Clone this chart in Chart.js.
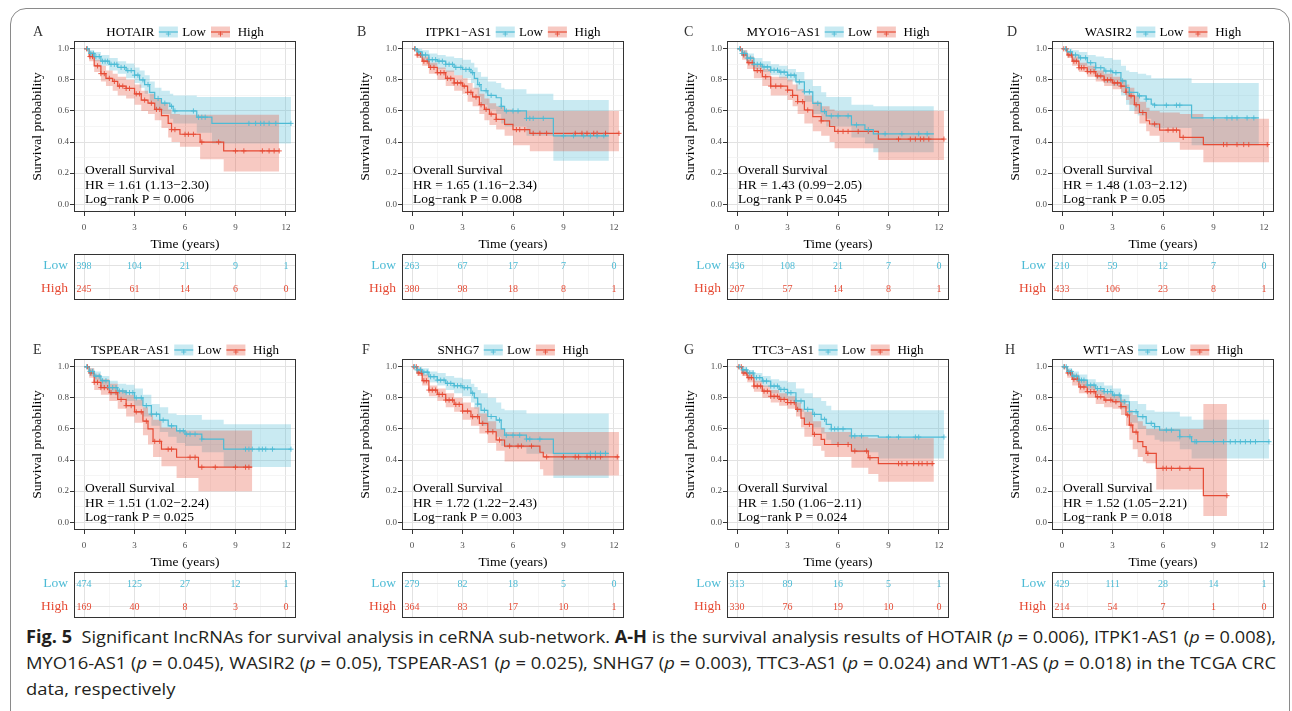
<!DOCTYPE html>
<html><head><meta charset="utf-8">
<script src="https://cdn.jsdelivr.net/npm/chart.js@4.4.0/dist/chart.umd.min.js"></script>
<style>
html,body{margin:0;padding:0;background:#fff;}
#page{position:relative;width:1292px;height:711px;overflow:hidden;background:#fff;}
#frame{position:absolute;left:10px;top:8px;width:1280px;height:740px;border:1px solid #8a8a8a;border-radius:16px;box-sizing:border-box;}
canvas{position:absolute;}
.cap{position:absolute;left:26px;font-family:'Open Sans',sans-serif;font-size:17px;line-height:17px;white-space:nowrap;color:#231f20;transform-origin:0 0;}
</style></head>
<body><div id="page"><div id="frame"></div>
<div class="cap" id="cap1"><b>Fig. 5</b>&nbsp; Significant lncRNAs for survival analysis in ceRNA sub-network. <b>A-H</b> is the survival analysis results of HOTAIR (<i>p</i> = 0.006), ITPK1-AS1 (<i>p</i> = 0.008),</div>
<div class="cap" id="cap2">MYO16-AS1 (<i>p</i> = 0.045), WASIR2 (<i>p</i> = 0.05), TSPEAR-AS1 (<i>p</i> = 0.025), SNHG7 (<i>p</i> = 0.003), TTC3-AS1 (<i>p</i> = 0.024) and WT1-AS (<i>p</i> = 0.018) in the TCGA CRC</div>
<div class="cap" id="cap3">data, respectively</div>
</div>
<script>
// ---------- DATA ----------
const xTicks = [0, 3, 6, 9, 12];
const xGrid = [0, 1.5, 3, 4.5, 6, 7.5, 9, 10.5, 12];
const yGrid = [0, 0.1, 0.2, 0.3, 0.4, 0.5, 0.6, 0.7, 0.8, 0.9, 1.0];
const riskTimes = [0, 3, 6, 9, 12];
const groupLabels = ['Low', 'High'];
const panelLetters = ['A','B','C','D','E','F','G','H'];
const geneNames = ['HOTAIR','ITPK1\u2212AS1','MYO16\u2212AS1','WASIR2','TSPEAR\u2212AS1','SNHG7','TTC3\u2212AS1','WT1\u2212AS'];
const hrTexts = ['1.61 (1.13\u22122.30)','1.65 (1.16\u22122.34)','1.43 (0.99\u22122.05)','1.48 (1.03\u22122.12)','1.51 (1.02\u22122.24)','1.72 (1.22\u22122.43)','1.50 (1.06\u22122.11)','1.52 (1.05\u22122.21)'];
const pTexts = ['0.006','0.008','0.045','0.05','0.025','0.003','0.024','0.018'];
const riskLow = [[398,104,21,9,1],[263,67,17,7,0],[436,108,21,7,0],[210,59,12,7,0],[474,125,27,12,1],[279,82,18,5,0],[313,89,16,5,1],[429,111,28,14,1]];
const riskHigh = [[245,61,14,6,0],[380,98,18,8,1],[207,57,14,8,1],[433,106,23,8,1],[169,40,8,3,0],[364,83,17,10,1],[330,76,19,10,0],[214,54,7,1,0]];

// Panel A (HOTAIR)
const A_lowT=[0,0.3,0.6,1.0,1.5,2.0,2.5,3.0,3.3,3.6,3.9,4.2,4.6,5.1,5.3,6.7,7.6,12.3];
const A_lowS=[1.0,0.97,0.95,0.92,0.90,0.88,0.86,0.83,0.80,0.77,0.72,0.68,0.65,0.63,0.60,0.56,0.52,0.52];
const A_lowU=[1.0,0.99,0.98,0.96,0.94,0.92,0.905,0.88,0.86,0.83,0.79,0.75,0.73,0.71,0.70,0.69,0.69,0.69];
const A_lowL=[1.0,0.95,0.92,0.89,0.86,0.84,0.81,0.78,0.75,0.71,0.66,0.61,0.58,0.55,0.52,0.46,0.39,0.39];
const A_lowC=[0.2,0.4,0.55,0.7,0.9,1.1,1.25,1.4,1.6,1.8,1.95,2.2,2.4,2.6,2.8,3.0,3.2,3.5,3.8,4.4,4.8,5.2,5.4,6.5,6.8,7.0,7.2,9.8,10.2,10.5,10.7,11.0,11.4,12.3];
const A_highT=[0,0.3,0.6,1.0,1.3,1.7,2.0,2.5,3.0,3.4,3.8,4.2,4.6,5.0,5.2,5.7,6.9,8.3,11.6];
const A_highS=[1.0,0.95,0.89,0.84,0.81,0.79,0.76,0.745,0.71,0.67,0.65,0.61,0.57,0.52,0.48,0.45,0.40,0.343,0.343];
const A_highU=[1.0,0.98,0.93,0.89,0.86,0.84,0.82,0.80,0.77,0.73,0.71,0.68,0.65,0.61,0.58,0.575,0.575,0.575,0.575];
const A_highL=[1.0,0.92,0.85,0.79,0.76,0.73,0.70,0.68,0.64,0.60,0.58,0.54,0.49,0.43,0.40,0.37,0.29,0.21,0.21];
const A_highC=[0.15,0.35,0.5,0.8,1.0,1.2,1.5,1.8,2.1,2.3,2.5,2.7,3.1,3.3,3.6,4.0,4.3,4.5,5.2,5.4,6.0,6.2,6.5,7.0,8.0,9.0,9.5,10.6,11.0,11.3,11.6];

// Panel B (ITPK1-AS1)
const B_lowT=[0,0.3,0.6,1.0,1.5,2.0,2.5,3.0,3.5,3.7,3.9,4.1,4.5,5.0,5.3,5.5,6.8,8.4,11.7];
const B_lowS=[1.0,0.98,0.96,0.93,0.92,0.90,0.88,0.867,0.846,0.81,0.77,0.73,0.70,0.685,0.63,0.60,0.552,0.44,0.44];
const B_lowU=[1.0,1.0,0.99,0.97,0.96,0.95,0.94,0.93,0.91,0.88,0.85,0.82,0.79,0.78,0.75,0.74,0.71,0.67,0.67];
const B_lowL=[1.0,0.96,0.93,0.89,0.87,0.85,0.83,0.81,0.78,0.74,0.69,0.64,0.61,0.58,0.52,0.50,0.44,0.28,0.28];
const B_lowC=[0.2,0.4,0.6,0.8,1.0,1.2,1.4,1.6,1.8,2.0,2.2,2.4,2.6,2.9,3.2,3.4,3.6,4.0,4.4,4.7,5.3,5.6,6.0,6.3,6.8,7.0,7.2,7.8,9.0,9.6,10.2,10.6,11.0,11.4];
const B_highT=[0,0.3,0.6,1.0,1.5,2.0,2.5,3.0,3.3,3.6,4.0,4.3,4.6,5.0,5.5,6.0,7.0,12.3];
const B_highS=[1.0,0.96,0.92,0.88,0.846,0.81,0.78,0.76,0.72,0.69,0.64,0.61,0.58,0.546,0.514,0.48,0.456,0.456];
const B_highU=[1.0,0.98,0.95,0.91,0.88,0.86,0.83,0.81,0.78,0.75,0.71,0.68,0.65,0.63,0.61,0.60,0.60,0.60];
const B_highL=[1.0,0.94,0.89,0.84,0.80,0.76,0.73,0.71,0.66,0.63,0.58,0.54,0.51,0.48,0.44,0.38,0.34,0.34];
const B_highC=[0.15,0.3,0.5,0.7,0.9,1.1,1.3,1.5,1.7,1.9,2.1,2.3,2.5,2.7,2.9,3.1,3.3,3.5,3.8,4.1,4.4,4.7,5.0,6.2,6.4,6.7,7.2,7.6,8.0,9.7,10.1,10.4,10.8,11.0,11.5,12.3];

// Panel C (MYO16-AS1)
const C_lowT=[0,0.3,0.6,1.0,1.5,2.0,2.5,3.0,3.5,4.0,4.5,5.0,5.3,6.8,7.6,8.1,11.7];
const C_lowS=[1.0,0.97,0.94,0.90,0.883,0.862,0.85,0.83,0.787,0.723,0.649,0.596,0.568,0.51,0.48,0.453,0.453];
const C_lowU=[1.0,0.99,0.97,0.94,0.92,0.90,0.89,0.87,0.85,0.80,0.76,0.72,0.69,0.64,0.64,0.63,0.63];
const C_lowL=[1.0,0.95,0.91,0.87,0.85,0.83,0.81,0.79,0.73,0.66,0.58,0.54,0.50,0.43,0.39,0.335,0.335];
const C_lowC=[0.15,0.3,0.45,0.6,0.8,1.0,1.2,1.4,1.6,1.8,2.0,2.2,2.4,2.6,2.8,3.0,3.2,3.4,3.7,4.0,4.3,4.8,5.2,5.6,6.0,6.6,7.1,7.8,8.8,9.8,10.8,11.3];
const C_highT=[0,0.3,0.6,1.0,1.5,2.0,3.0,3.3,3.6,4.0,4.5,5.0,5.5,5.8,8.4,12.3];
const C_highS=[1.0,0.96,0.91,0.86,0.82,0.76,0.734,0.70,0.66,0.606,0.564,0.536,0.50,0.468,0.419,0.419];
const C_highU=[1.0,0.99,0.95,0.90,0.87,0.82,0.80,0.77,0.74,0.70,0.66,0.63,0.61,0.60,0.60,0.60];
const C_highL=[1.0,0.93,0.87,0.81,0.76,0.70,0.67,0.63,0.58,0.52,0.47,0.44,0.40,0.36,0.285,0.285];
const C_highC=[0.2,0.4,0.7,0.9,1.2,1.4,1.7,2.0,2.3,2.6,3.0,3.3,3.6,3.9,4.2,5.0,6.0,6.3,6.6,7.2,7.8,9.6,10.3,10.6,10.9,11.1,11.4,12.3];

// Panel D (WASIR2)
const D_lowT=[0,0.3,0.6,1.0,1.5,2.0,2.5,3.0,3.5,3.8,4.0,4.5,5.0,5.3,5.5,7.7,11.7];
const D_lowS=[1.0,0.98,0.96,0.942,0.91,0.878,0.857,0.846,0.793,0.75,0.72,0.697,0.676,0.644,0.637,0.555,0.555];
const D_lowU=[1.0,1.0,0.99,0.98,0.96,0.95,0.94,0.93,0.89,0.86,0.85,0.84,0.83,0.81,0.81,0.78,0.78];
const D_lowL=[1.0,0.95,0.92,0.89,0.85,0.81,0.78,0.76,0.70,0.64,0.60,0.57,0.55,0.50,0.49,0.38,0.38];
const D_lowC=[0.2,0.5,0.8,1.1,1.4,1.7,2.0,2.3,2.6,2.9,3.2,3.6,4.0,4.6,5.0,5.5,6.2,6.8,7.0,9.0,9.8,10.1,10.4,11.0,11.4];
const D_highT=[0,0.3,0.6,1.0,1.5,2.0,2.5,3.0,3.5,3.8,4.0,4.3,4.6,5.0,5.2,5.8,7.0,8.4,12.3];
const D_highS=[1.0,0.96,0.92,0.878,0.853,0.825,0.80,0.78,0.76,0.72,0.697,0.64,0.59,0.537,0.516,0.477,0.43,0.384,0.384];
const D_highU=[1.0,0.98,0.95,0.91,0.89,0.86,0.84,0.82,0.80,0.77,0.75,0.70,0.66,0.62,0.60,0.59,0.58,0.55,0.55];
const D_highL=[1.0,0.94,0.89,0.85,0.82,0.79,0.76,0.74,0.72,0.67,0.64,0.58,0.52,0.47,0.44,0.40,0.35,0.27,0.27];
const D_highC=[0.1,0.25,0.4,0.55,0.7,0.85,1.0,1.15,1.3,1.5,1.7,1.9,2.1,2.3,2.5,2.7,2.9,3.1,3.3,3.5,3.8,4.1,4.4,4.8,5.5,6.3,6.6,6.8,7.2,9.6,9.8,10.4,10.8,11.1,12.2];

// Panel E (TSPEAR-AS1)
const E_lowT=[0,0.3,0.6,1.0,1.5,2.0,2.5,3.0,3.5,4.0,4.5,5.0,5.5,6.0,7.0,8.3,12.3];
const E_lowS=[1.0,0.97,0.94,0.91,0.866,0.844,0.834,0.80,0.75,0.695,0.657,0.62,0.588,0.567,0.535,0.47,0.47];
const E_lowU=[1.0,0.99,0.97,0.94,0.91,0.89,0.885,0.86,0.82,0.76,0.74,0.70,0.69,0.69,0.66,0.63,0.63];
const E_lowL=[1.0,0.94,0.91,0.87,0.82,0.80,0.78,0.75,0.68,0.62,0.58,0.55,0.51,0.49,0.45,0.355,0.355];
const E_lowC=[0.15,0.35,0.5,0.7,0.9,1.1,1.3,1.5,1.7,1.9,2.1,2.3,2.5,2.7,2.9,3.1,3.4,3.7,4.0,4.3,4.7,5.2,5.7,5.9,6.1,6.3,6.6,7.0,9.6,9.8,10.0,10.4,10.6,10.8,11.2,12.3];
const E_highT=[0,0.3,0.6,1.0,1.5,2.0,2.5,3.0,3.5,3.8,4.1,4.6,5.5,6.8,10.0];
const E_highS=[1.0,0.96,0.90,0.866,0.834,0.79,0.75,0.71,0.65,0.60,0.52,0.47,0.418,0.354,0.354];
const E_highU=[1.0,0.99,0.95,0.92,0.89,0.85,0.82,0.79,0.74,0.70,0.66,0.61,0.59,0.59,0.59];
const E_highL=[1.0,0.93,0.85,0.82,0.78,0.73,0.68,0.64,0.56,0.50,0.42,0.36,0.285,0.20,0.20];
const E_highC=[0.2,0.4,0.6,0.8,1.0,1.2,1.4,1.6,1.9,2.2,2.5,2.8,3.1,3.4,3.7,4.2,4.5,5.0,5.2,6.3,6.6,7.0,7.8,9.0,9.6,9.8];

// Panel F (SNHG7)
const F_lowT=[0,0.3,0.6,1.0,1.5,2.0,2.5,3.0,3.5,3.7,3.9,4.1,4.5,5.0,5.3,5.5,6.8,8.4,11.7];
const F_lowS=[1.0,0.98,0.965,0.936,0.914,0.893,0.878,0.865,0.83,0.80,0.76,0.72,0.68,0.657,0.60,0.56,0.535,0.443,0.443];
const F_lowU=[1.0,1.0,0.99,0.97,0.96,0.94,0.93,0.92,0.89,0.87,0.85,0.83,0.80,0.77,0.73,0.72,0.70,0.70,0.70];
const F_lowL=[1.0,0.96,0.94,0.90,0.88,0.85,0.83,0.81,0.77,0.73,0.68,0.62,0.58,0.55,0.49,0.48,0.44,0.285,0.285];
const F_lowC=[0.15,0.3,0.5,0.7,0.9,1.1,1.3,1.5,1.7,1.9,2.1,2.3,2.5,2.7,2.9,3.1,3.3,3.6,3.9,4.3,4.7,5.2,5.6,6.0,6.4,6.8,7.0,7.6,10.6,10.9,11.2,11.5];
const F_highT=[0,0.3,0.6,1.0,1.5,2.0,2.5,3.0,3.5,4.0,4.5,5.0,5.5,7.6,7.8,12.3];
const F_highS=[1.0,0.96,0.91,0.85,0.822,0.786,0.758,0.715,0.679,0.636,0.582,0.529,0.49,0.45,0.42,0.42];
const F_highU=[1.0,0.99,0.95,0.88,0.86,0.83,0.80,0.77,0.74,0.70,0.65,0.60,0.58,0.58,0.58,0.58];
const F_highL=[1.0,0.94,0.88,0.81,0.78,0.74,0.71,0.66,0.62,0.57,0.51,0.46,0.39,0.34,0.30,0.30];
const F_highC=[0.1,0.25,0.4,0.55,0.7,0.85,1.0,1.2,1.4,1.6,1.8,2.0,2.2,2.4,2.6,2.8,3.0,3.3,3.6,3.9,4.2,4.5,4.8,5.2,5.8,6.3,6.5,7.1,8.0,9.0,9.7,9.9,10.4,10.6,10.9,11.2,12.2];

// Panel G (TTC3-AS1)
const G_lowT=[0,0.3,0.6,1.0,1.5,2.0,2.5,3.0,3.5,4.0,4.5,5.0,5.3,5.6,6.8,8.4,12.3];
const G_lowS=[1.0,0.98,0.96,0.93,0.908,0.876,0.854,0.833,0.78,0.726,0.694,0.662,0.63,0.60,0.555,0.548,0.548];
const G_lowU=[1.0,1.0,0.98,0.96,0.94,0.92,0.91,0.90,0.86,0.83,0.80,0.78,0.75,0.72,0.72,0.72,0.72];
const G_lowL=[1.0,0.96,0.93,0.90,0.87,0.83,0.80,0.78,0.71,0.64,0.61,0.57,0.53,0.50,0.45,0.41,0.41];
const G_lowC=[0.15,0.35,0.55,0.75,0.95,1.15,1.35,1.55,1.75,2.0,2.2,2.4,2.6,2.8,3.0,3.2,3.5,3.8,4.2,4.6,5.2,5.6,5.8,6.0,6.3,6.8,7.0,7.4,9.0,9.6,10.6,10.8,12.3];
const G_highT=[0,0.3,0.6,1.0,1.5,2.0,2.5,3.0,3.5,3.8,4.0,4.5,5.0,5.2,6.8,7.8,8.4,11.7];
const G_highS=[1.0,0.96,0.93,0.876,0.843,0.81,0.79,0.77,0.726,0.67,0.63,0.565,0.533,0.50,0.458,0.415,0.377,0.377];
const G_highU=[1.0,0.98,0.96,0.91,0.88,0.85,0.83,0.81,0.77,0.73,0.71,0.65,0.61,0.58,0.55,0.54,0.54,0.54];
const G_highL=[1.0,0.94,0.90,0.84,0.80,0.77,0.75,0.73,0.68,0.61,0.55,0.49,0.46,0.42,0.35,0.31,0.26,0.26];
const G_highC=[0.1,0.25,0.4,0.55,0.7,0.85,1.0,1.2,1.4,1.6,1.8,2.0,2.2,2.4,2.6,2.8,3.0,3.2,3.4,3.6,4.3,4.6,6.0,6.6,7.0,7.7,7.9,9.6,9.8,10.1,10.5,10.8,11.0,11.3,11.6];

// Panel H (WT1-AS)
const H_lowT=[0,0.3,0.6,1.0,1.5,2.0,2.5,3.0,3.5,4.0,4.5,5.0,5.5,5.8,7.0,7.7,12.3];
const H_lowS=[1.0,0.97,0.94,0.914,0.882,0.86,0.84,0.818,0.775,0.711,0.679,0.636,0.615,0.593,0.55,0.518,0.518];
const H_lowU=[1.0,0.99,0.97,0.95,0.92,0.90,0.88,0.86,0.82,0.78,0.76,0.72,0.71,0.71,0.68,0.66,0.66];
const H_lowL=[1.0,0.95,0.92,0.88,0.85,0.82,0.80,0.77,0.73,0.64,0.60,0.56,0.53,0.52,0.47,0.41,0.41];
const H_lowC=[0.1,0.25,0.4,0.55,0.7,0.85,1.0,1.15,1.3,1.5,1.7,1.9,2.1,2.3,2.5,2.7,2.9,3.1,3.4,3.7,4.0,4.4,4.8,5.3,5.5,6.2,6.5,7.0,7.6,7.9,8.0,9.0,9.6,10.0,10.3,10.6,10.9,11.2,11.5,12.3];
const H_highT=[0,0.3,0.6,1.0,1.5,2.0,2.5,3.0,3.5,3.8,4.0,4.2,4.5,4.8,5.0,5.6,8.4,9.8];
const H_highS=[1.0,0.96,0.92,0.87,0.84,0.807,0.786,0.775,0.743,0.69,0.625,0.58,0.518,0.486,0.443,0.347,0.171,0.171];
const H_highU=[1.0,0.98,0.95,0.91,0.88,0.85,0.83,0.82,0.79,0.76,0.72,0.69,0.65,0.62,0.60,0.60,0.76,0.76];
const H_highL=[1.0,0.93,0.88,0.83,0.80,0.76,0.74,0.73,0.69,0.62,0.53,0.47,0.42,0.39,0.38,0.21,0.04,0.04];
const H_highC=[0.15,0.35,0.5,0.7,0.9,1.1,1.3,1.5,1.7,1.9,2.1,2.3,2.6,2.9,3.2,3.5,3.9,4.1,4.4,5.1,6.0,6.2,6.5,7.0,7.6,9.8];

const curveList = [
  [{T:A_lowT,S:A_lowS,U:A_lowU,L:A_lowL,C:A_lowC},{T:A_highT,S:A_highS,U:A_highU,L:A_highL,C:A_highC}],
  [{T:B_lowT,S:B_lowS,U:B_lowU,L:B_lowL,C:B_lowC},{T:B_highT,S:B_highS,U:B_highU,L:B_highL,C:B_highC}],
  [{T:C_lowT,S:C_lowS,U:C_lowU,L:C_lowL,C:C_lowC},{T:C_highT,S:C_highS,U:C_highU,L:C_highL,C:C_highC}],
  [{T:D_lowT,S:D_lowS,U:D_lowU,L:D_lowL,C:D_lowC},{T:D_highT,S:D_highS,U:D_highU,L:D_highL,C:D_highC}],
  [{T:E_lowT,S:E_lowS,U:E_lowU,L:E_lowL,C:E_lowC},{T:E_highT,S:E_highS,U:E_highU,L:E_highL,C:E_highC}],
  [{T:F_lowT,S:F_lowS,U:F_lowU,L:F_lowL,C:F_lowC},{T:F_highT,S:F_highS,U:F_highU,L:F_highL,C:F_highC}],
  [{T:G_lowT,S:G_lowS,U:G_lowU,L:G_lowL,C:G_lowC},{T:G_highT,S:G_highS,U:G_highU,L:G_highL,C:G_highC}],
  [{T:H_lowT,S:H_lowS,U:H_lowU,L:H_lowL,C:H_lowC},{T:H_highT,S:H_highS,U:H_highU,L:H_highL,C:H_highC}]
];

// ---------- LAYOUT / STYLE ----------
const colLeft = [74, 402, 727, 1052];
const rowPlotTop = [41, 359];
const rowTableTop = [254, 572];
const letterOff = [41, 45, 43, 45, 41, 40, 43, 47];
const PW = 222, PH = 171, TH = 46, YW = 62, TOPPAD = 32, XH = 46, RPAD = 10;
const BLUE = '#4DBBD5', RED = '#E64B35';
const BLUE_BAND = 'rgba(77,187,213,0.3)', RED_BAND = 'rgba(230,75,53,0.3)';
const SERIF = '"Liberation Serif", "Times New Roman", serif';
const GRID_MAJ = '#e2e2e2', GRID_MIN = '#f0f0f0';

Chart.defaults.font.family = SERIF;

function stepAt(T, S, t) { let v = S[0]; for (let i = 0; i < T.length; i++) { if (T[i] <= t) v = S[i]; } return v; }
function pts(T, V) { return T.map((t, i) => ({x: t, y: V[i]})); }
const isMajorX = v => Math.abs(v / 3 - Math.round(v / 3)) < 1e-6;
const isMajorY = v => Math.abs(v * 5 - Math.round(v * 5)) < 1e-6;
function zeroPad(s) { s.paddingTop = 0; s.paddingBottom = 0; s.paddingLeft = 0; s.paddingRight = 0; }

const kmDecor = {
  id: 'kmDecor',
  afterDatasetsDraw(chart, args, o) {
    const {ctx, chartArea: a, scales: {x, y}} = chart;
    ctx.save();
    ctx.strokeStyle = '#333'; ctx.lineWidth = 1;
    ctx.strokeRect(Math.round(a.left) + 0.5, Math.round(a.top) + 0.5, Math.round(a.right - a.left) - 1, Math.round(a.bottom - a.top) - 1);
    ctx.fillStyle = '#000'; ctx.font = '13.5px ' + SERIF; ctx.textAlign = 'left'; ctx.textBaseline = 'alphabetic';
    const x0 = x.getPixelForValue(0) + 1, y0 = y.getPixelForValue(0);
    ctx.fillText('Overall Survival', x0, y0 - 30);
    ctx.fillText('HR = ' + o.hr, x0, y0 - 15.5);
    ctx.fillText('Log\u2212rank P = ' + o.p, x0, y0 - 1.5);
    ctx.restore();
  },
  afterDraw(chart, args, o) {
    const {ctx, chartArea: a} = chart;
    ctx.save();
    ctx.fillStyle = '#333'; ctx.font = '14px ' + SERIF; ctx.textBaseline = 'alphabetic'; ctx.textAlign = 'left';
    ctx.fillText(o.letter, a.left - o.letterOff, a.top - 5.3);
    ctx.fillStyle = '#000'; ctx.font = '13px ' + SERIF;
    const wN = ctx.measureText(o.name).width, wL = ctx.measureText(groupLabels[0]).width, wH = ctx.measureText(groupLabels[1]).width;
    const total = wN + 4.5 + 19 + 4.3 + wL + 5 + 19 + 7.7 + wH;
    let cx = (a.left + a.right) / 2 - total / 2;
    const base = a.top - 5.3, kTop = a.top - 14.5, kH = 11;
    ctx.fillText(o.name, cx, base); cx += wN + 4.5;
    const key = (bx, band, col) => {
      ctx.fillStyle = band; ctx.fillRect(bx, kTop, 19, kH);
      ctx.strokeStyle = col; ctx.lineWidth = 1.2;
      ctx.beginPath(); ctx.moveTo(bx, kTop + kH / 2); ctx.lineTo(bx + 19, kTop + kH / 2); ctx.stroke();
      ctx.lineWidth = 0.9;
      ctx.beginPath(); ctx.moveTo(bx + 9.5 - 2.5, kTop + kH / 2 + 2); ctx.lineTo(bx + 9.5 + 2.5, kTop + kH / 2 + 2);
      ctx.moveTo(bx + 9.5, kTop + kH / 2 - 0.5); ctx.lineTo(bx + 9.5, kTop + kH / 2 + 4.5); ctx.stroke();
    };
    key(cx, BLUE_BAND, BLUE); cx += 19 + 4.3;
    ctx.fillStyle = '#000'; ctx.fillText(groupLabels[0], cx, base); cx += wL + 5;
    key(cx, RED_BAND, RED); cx += 19 + 7.7;
    ctx.fillStyle = '#000'; ctx.fillText(groupLabels[1], cx, base);
    ctx.font = '13.5px ' + SERIF; ctx.textAlign = 'center'; ctx.fillStyle = '#000';
    ctx.fillText('Time (years)', (a.left + a.right) / 2, a.bottom + 36);
    ctx.translate(a.left - 33.5, (a.top + a.bottom) / 2);
    ctx.rotate(-Math.PI / 2);
    ctx.fillText('Survival probability', 0, 0);
    ctx.restore();
  }
};

const riskDecor = {
  id: 'riskDecor',
  afterDatasetsDraw(chart) {
    const {ctx, chartArea: a} = chart;
    ctx.save();
    ctx.font = '10px ' + SERIF; ctx.textAlign = 'center'; ctx.textBaseline = 'middle';
    chart.data.datasets.forEach((ds, i) => {
      const meta = chart.getDatasetMeta(i);
      ctx.fillStyle = ds.textColor;
      meta.data.forEach((el, j) => ctx.fillText(String(ds.counts[j]), el.x, el.y + 0.5));
    });
    ctx.strokeStyle = '#333'; ctx.lineWidth = 1;
    ctx.strokeRect(Math.round(a.left) + 0.5, Math.round(a.top) + 0.5, Math.round(a.right - a.left) - 1, Math.round(a.bottom - a.top) - 1);
    ctx.restore();
  }
};

function makeCanvas(left, top, w, h) {
  const c = document.createElement('canvas');
  c.width = w; c.height = h;
  c.style.left = left + 'px'; c.style.top = top + 'px';
  c.style.width = w + 'px'; c.style.height = h + 'px';
  document.getElementById('page').appendChild(c);
  return c;
}

function buildPanel(i) {
  const col = i % 4, row = Math.floor(i / 4);
  const L = colLeft[col], T = rowPlotTop[row], TT = rowTableTop[row];
  const [lo, hi] = curveList[i];
  const cw = YW + PW + RPAD;
  const kmCanvas = makeCanvas(L - YW, T - TOPPAD, cw, TOPPAD + PH + XH);
  const lineBase = {pointRadius: 0, stepped: true, fill: false, borderWidth: 0, borderColor: 'rgba(0,0,0,0)'};
  const datasets = [
    Object.assign({}, lineBase, {data: pts(lo.T, lo.U), order: 9}),
    Object.assign({}, lineBase, {data: pts(lo.T, lo.L), fill: '-1', backgroundColor: BLUE_BAND, order: 9}),
    Object.assign({}, lineBase, {data: pts(hi.T, hi.U), order: 8}),
    Object.assign({}, lineBase, {data: pts(hi.T, hi.L), fill: '-1', backgroundColor: RED_BAND, order: 8}),
    Object.assign({}, lineBase, {data: pts(hi.T, hi.S), borderColor: RED, borderWidth: 1.2, order: 3}),
    Object.assign({}, lineBase, {data: pts(lo.T, lo.S), borderColor: BLUE, borderWidth: 1.2, order: 2}),
    {data: hi.C.map(t => ({x: t, y: stepAt(hi.T, hi.S, t)})), showLine: false, pointStyle: 'cross', pointRadius: 2.6, pointBorderWidth: 0.9, pointBorderColor: RED, borderColor: RED, order: 1},
    {data: lo.C.map(t => ({x: t, y: stepAt(lo.T, lo.S, t)})), showLine: false, pointStyle: 'cross', pointRadius: 2.6, pointBorderWidth: 0.9, pointBorderColor: BLUE, borderColor: BLUE, order: 0}
  ];
  new Chart(kmCanvas, {
    type: 'line',
    data: {datasets},
    plugins: [kmDecor],
    options: {
      responsive: false, animation: false, devicePixelRatio: 1, events: [],
      layout: {padding: {top: TOPPAD, right: RPAD, left: 0, bottom: 0}},
      plugins: {legend: {display: false}, tooltip: {enabled: false},
        kmDecor: {name: geneNames[i], hr: hrTexts[i], p: pTexts[i], letter: panelLetters[i], letterOff: letterOff[i]}},
      scales: {
        x: {type: 'linear', min: -0.6, max: 12.6,
          afterBuildTicks: s => { s.ticks = xGrid.map(v => ({value: v})); },
          afterFit: s => { s.height = XH; zeroPad(s); },
          border: {display: false},
          grid: {color: c => isMajorX(c.tick.value) ? GRID_MAJ : GRID_MIN, lineWidth: c => isMajorX(c.tick.value) ? 1 : 0.7,
                 tickColor: c => isMajorX(c.tick.value) ? '#333' : 'rgba(0,0,0,0)', tickLength: 4, tickWidth: 1},
          ticks: {autoSkip: false, maxRotation: 0, padding: 6, color: '#4d4d4d', font: {family: SERIF, size: 9},
                  callback: v => (xTicks.includes(v) ? String(v) : '')}
        },
        y: {type: 'linear', min: -0.05, max: 1.05,
          afterBuildTicks: s => { s.ticks = yGrid.map(v => ({value: v})); },
          afterFit: s => { s.width = YW; zeroPad(s); },
          border: {display: false},
          grid: {color: c => isMajorY(c.tick.value) ? GRID_MAJ : GRID_MIN, lineWidth: c => isMajorY(c.tick.value) ? 1 : 0.7,
                 tickColor: c => isMajorY(c.tick.value) ? '#333' : 'rgba(0,0,0,0)', tickLength: 4, tickWidth: 1},
          ticks: {autoSkip: false, padding: 1, color: '#4d4d4d', font: {family: SERIF, size: 9},
                  callback: v => (isMajorY(v) ? v.toFixed(1) : '')}
        }
      }
    }
  });

  const rCanvas = makeCanvas(L - YW, TT - 2, cw, TH + 4);
  new Chart(rCanvas, {
    type: 'scatter',
    data: {datasets: [
      {data: riskTimes.map(t => ({x: t, y: groupLabels[0]})), counts: riskLow[i], textColor: BLUE, pointRadius: 0},
      {data: riskTimes.map(t => ({x: t, y: groupLabels[1]})), counts: riskHigh[i], textColor: RED, pointRadius: 0}
    ]},
    plugins: [riskDecor],
    options: {
      responsive: false, animation: false, devicePixelRatio: 1, events: [],
      layout: {padding: {top: 2, right: RPAD, left: 0, bottom: 2}},
      plugins: {legend: {display: false}, tooltip: {enabled: false}},
      scales: {
        x: {type: 'linear', min: -0.6, max: 12.6,
          afterBuildTicks: s => { s.ticks = xGrid.map(v => ({value: v})); },
          afterFit: s => { s.height = 0; zeroPad(s); },
          border: {display: false},
          grid: {color: c => isMajorX(c.tick.value) ? GRID_MAJ : GRID_MIN, lineWidth: c => isMajorX(c.tick.value) ? 1 : 0.7, drawTicks: false},
          ticks: {display: false}
        },
        y: {type: 'category', labels: groupLabels, offset: true,
          afterFit: s => { s.width = YW; zeroPad(s); },
          border: {display: false},
          grid: {offset: false, color: GRID_MAJ, lineWidth: 1, drawTicks: false},
          ticks: {padding: 6, font: {family: SERIF, size: 13.5}, color: c => (c.index === 0 ? BLUE : RED)}
        }
      }
    }
  });
}

for (let i = 0; i < 8; i++) buildPanel(i);

function fitLine(id, top, target) {
  const el = document.getElementById(id);
  el.style.top = top + 'px';
  const w = el.getBoundingClientRect().width;
  const k = target / w;
  el.style.transform = 'scaleX(' + k + ')';
  return k;
}
fitLine('cap1', 628, 1250);
const k2 = fitLine('cap2', 654, 1250);
const c3 = document.getElementById('cap3');
c3.style.top = '680px'; c3.style.transform = 'scaleX(' + k2 + ')';
</script>
</body></html>
